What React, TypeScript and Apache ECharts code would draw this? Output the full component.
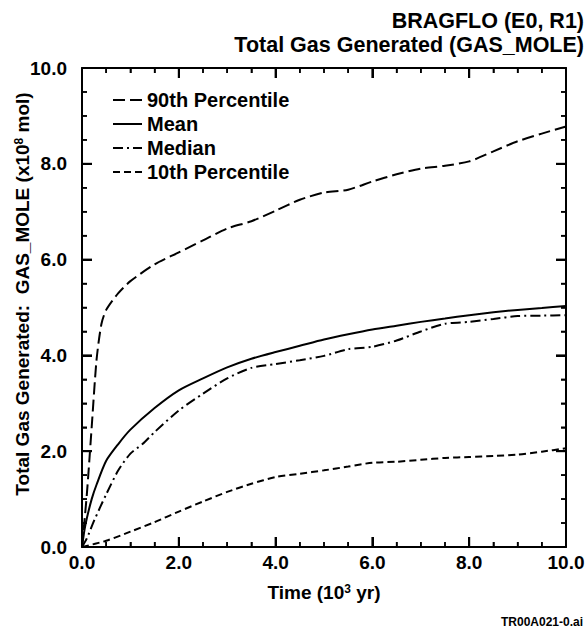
import React, { useEffect, useRef } from "react";
import * as echarts from "echarts";

const FONT = '"Liberation Sans", Arial, Helvetica, sans-serif';

const titleLines = ["BRAGFLO (E0, R1)", "Total Gas Generated (GAS_MOLE)"];
const seriesNames = ["90th Percentile", "Mean", "Median", "10th Percentile"];
const xTickLabels = ["0.0", "2.0", "4.0", "6.0", "8.0", "10.0"];
const majorTickValues = [0, 2, 4, 6, 8, 10];
const minorTickValues = [0.5, 1, 1.5, 2.5, 3, 3.5, 4.5, 5, 5.5, 6.5, 7, 7.5, 8.5, 9, 9.5];

// 90th percentile
const time90 = [0, 0.1, 0.2, 0.3, 0.4, 0.5, 0.75, 1.0, 1.5, 2.0, 2.5, 3.0, 3.5, 4.0, 4.5, 5.0, 5.5, 6.0, 6.5, 7.0, 7.5, 8.0, 8.5, 9.0, 9.5, 10.0];
const value90 = [0, 1.1, 2.5, 3.9, 4.65, 4.95, 5.3, 5.55, 5.9, 6.15, 6.4, 6.65, 6.8, 7.02, 7.25, 7.4, 7.46, 7.63, 7.78, 7.9, 7.96, 8.05, 8.26, 8.47, 8.63, 8.78];

// Mean
const timeMean = [0, 0.05, 0.1, 0.2, 0.3, 0.5, 0.75, 1.0, 1.5, 2.0, 2.5, 3.0, 3.5, 4.0, 4.5, 5.0, 5.5, 6.0, 6.5, 7.0, 7.5, 8.0, 8.5, 9.0, 9.5, 10.0];
const valueMean = [0, 0.35, 0.6, 1.0, 1.3, 1.8, 2.15, 2.45, 2.9, 3.27, 3.52, 3.75, 3.93, 4.07, 4.2, 4.33, 4.44, 4.54, 4.62, 4.7, 4.77, 4.84, 4.9, 4.95, 4.99, 5.03];

// Median
const timeMedian = [0, 0.1, 0.25, 0.5, 0.75, 1.0, 1.25, 1.5, 2.0, 2.5, 3.0, 3.5, 4.0, 4.5, 5.0, 5.5, 6.0, 6.5, 7.0, 7.5, 8.0, 8.5, 9.0, 9.5, 10.0];
const valueMedian = [0, 0.18, 0.55, 1.1, 1.6, 1.95, 2.15, 2.4, 2.85, 3.2, 3.52, 3.74, 3.82, 3.9, 3.99, 4.13, 4.18, 4.31, 4.5, 4.66, 4.7, 4.76, 4.82, 4.83, 4.84];

// 10th percentile
const time10 = [0, 0.5, 1.0, 1.5, 2.0, 2.5, 3.0, 3.5, 4.0, 4.5, 5.0, 5.5, 6.0, 6.5, 7.0, 7.5, 8.0, 8.5, 9.0, 9.5, 10.0];
const value10 = [0, 0.13, 0.32, 0.52, 0.74, 0.95, 1.15, 1.32, 1.46, 1.53, 1.6, 1.68, 1.76, 1.78, 1.82, 1.86, 1.88, 1.9, 1.93, 1.99, 2.06];

const pairs = (t: number[], v: number[]) => t.map((x, i) => [x, v[i]]);

const dashes: Record<string, number[] | "solid"> = {
  "90th Percentile": [12, 5],
  Mean: "solid",
  Median: [10, 4, 2, 4],
  "10th Percentile": [7, 4],
};

const AXIS_MIN = 0;
const AXIS_MAX = 10;

const makeAxisStyle = () => ({
  axisLine: { show: true, onZero: false, lineStyle: { color: "#000", width: 2 } },
  axisTick: { show: true, inside: true, length: 10, lineStyle: { color: "#000", width: 2 } },
  minorTick: { show: true, splitNumber: 4, length: 5, lineStyle: { color: "#000", width: 1.5 } },
  splitLine: { lineStyle: { color: "rgba(0,0,0,0)", width: 0 } },
});

export default function App() {
  const ref = useRef<HTMLDivElement>(null);

  useEffect(() => {
    if (!ref.current) return;
    const chart = echarts.init(ref.current, undefined, { renderer: "svg" });

    const labelStyle = {
      color: "#000",
      fontSize: 19,
      fontWeight: "bold" as const,
      fontFamily: FONT,
    };

    const datasets = [
      pairs(time90, value90),
      pairs(timeMean, valueMean),
      pairs(timeMedian, valueMedian),
      pairs(time10, value10),
    ];

    // tick data: [value, 1 = major / 0 = minor]
    const tickData = [
      ...majorTickValues.map((v) => [v, 1]),
      ...minorTickValues.map((v) => [v, 0]),
    ];

    // hand-drawn legend (line sample + label)
    const legendGraphics: any[] = [];
    seriesNames.forEach((name, i) => {
      const y = 100 + i * 24;
      const d = dashes[name];
      legendGraphics.push({
        type: "line",
        shape: { x1: 113, y1: y, x2: 142, y2: y },
        style: { stroke: "#000", lineWidth: 2, lineDash: d === "solid" ? null : d },
      });
      legendGraphics.push({
        type: "text",
        x: 147,
        y,
        style: {
          text: name,
          fill: "#000",
          fontSize: 20,
          fontWeight: "bold",
          fontFamily: FONT,
          align: "left",
          verticalAlign: "middle",
        },
      });
    });

    const option: any = {
      animation: false,
      title: titleLines.map((t, i) => ({
        text: t,
        right: 4,
        top: 10 + i * 24,
        padding: 0,
        textStyle: { color: "#000", fontSize: 21.5, fontWeight: "bold", fontFamily: FONT },
      })),
      grid: { left: 82, right: 22, top: 68, bottom: 84 },
      xAxis: [
        {
          type: "value",
          min: AXIS_MIN,
          max: AXIS_MAX,
          interval: 2,
          position: "bottom",
          ...makeAxisStyle(),
          axisLabel: {
            ...labelStyle,
            margin: 6,
            formatter: (v: number) => xTickLabels[Math.round(v / 2)] ?? v.toFixed(1),
          },
          name: "Time (10{sup|3} yr)",
          nameLocation: "middle",
          nameGap: 36,
          nameTextStyle: {
            ...labelStyle,
            fontSize: 19,
            rich: {
              sup: { fontSize: 12, fontWeight: "bold", fontFamily: FONT, color: "#000", verticalAlign: "top" },
            },
          },
        },
        {
          type: "value",
          min: AXIS_MIN,
          max: AXIS_MAX,
          interval: 2,
          position: "top",
          ...makeAxisStyle(),
          axisLabel: { show: false },
        },
      ],
      yAxis: [
        {
          type: "value",
          min: AXIS_MIN,
          max: AXIS_MAX,
          interval: 2,
          position: "left",
          ...makeAxisStyle(),
          axisLabel: { ...labelStyle, margin: 15, formatter: (v: number) => v.toFixed(1) },
        },
        {
          type: "value",
          min: AXIS_MIN,
          max: AXIS_MAX,
          interval: 2,
          position: "right",
          ...makeAxisStyle(),
          axisLabel: { show: false },
        },
      ],
      graphic: [
        ...legendGraphics,
        {
          type: "text",
          x: 22,
          y: 294,
          rotation: Math.PI / 2,
          style: {
            text: "Total Gas Generated:  GAS_MOLE (x10{sup|8} mol)",
            fill: "#000",
            fontSize: 19,
            fontWeight: "bold",
            fontFamily: FONT,
            align: "center",
            verticalAlign: "middle",
            rich: {
              sup: { fontSize: 12, fontWeight: "bold", fontFamily: FONT, fill: "#000", verticalAlign: "top" },
            },
          },
        },
        {
          type: "text",
          x: 501,
          y: 622,
          style: {
            text: "TR00A021-0.ai",
            fill: "#000",
            fontSize: 12,
            fontWeight: "bold",
            fontFamily: FONT,
            align: "left",
            verticalAlign: "middle",
          },
        },
      ],
      series: [
        ...seriesNames.map((name, i) => ({
          name,
          type: "line",
          xAxisIndex: 0,
          yAxisIndex: 0,
          data: datasets[i],
          symbol: "none",
          showSymbol: false,
          smooth: 0.25,
          lineStyle: { color: "#000", width: 2, type: dashes[name] },
          itemStyle: { color: "#000" },
        })),
        {
          name: "ticks",
          type: "custom",
          xAxisIndex: 0,
          yAxisIndex: 0,
          silent: true,
          z: 5,
          data: tickData,
          renderItem: (_params: any, api: any) => {
            const v = api.value(0);
            const major = api.value(1) === 1;
            const len = major ? 10 : 5;
            const bottom = api.coord([v, AXIS_MIN]);
            const top = api.coord([v, AXIS_MAX]);
            const left = api.coord([AXIS_MIN, v]);
            const right = api.coord([AXIS_MAX, v]);
            const style = { stroke: "#000", lineWidth: major ? 2 : 1.5 };
            return {
              type: "group",
              children: [
                { type: "line", shape: { x1: bottom[0], y1: bottom[1], x2: bottom[0], y2: bottom[1] - len }, style },
                { type: "line", shape: { x1: top[0], y1: top[1], x2: top[0], y2: top[1] + len }, style },
                { type: "line", shape: { x1: left[0], y1: left[1], x2: left[0] + len, y2: left[1] }, style },
                { type: "line", shape: { x1: right[0], y1: right[1], x2: right[0] - len, y2: right[1] }, style },
              ],
            };
          },
        },
      ],
    };

    chart.setOption(option);
    return () => chart.dispose();
  }, []);

  return (
    <div
      ref={ref}
      style={{ position: "fixed", left: 0, top: 0, width: 588, height: 631, background: "#fff" }}
    />
  );
}
